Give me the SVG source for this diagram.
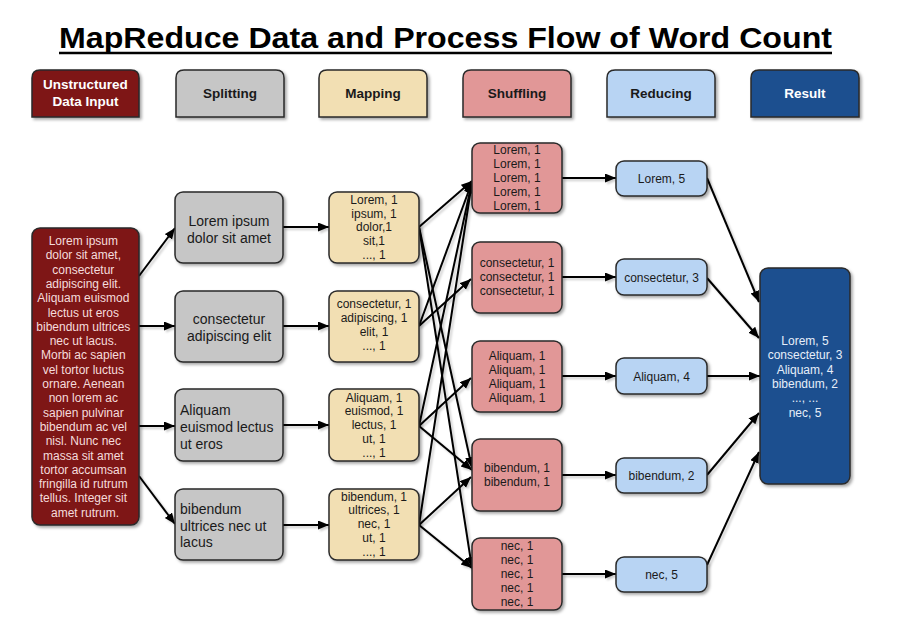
<svg xmlns="http://www.w3.org/2000/svg" width="919" height="624" viewBox="0 0 919 624">
<defs>
<filter id="sh" x="-20%" y="-20%" width="140%" height="140%"><feDropShadow dx="2" dy="2" stdDeviation="1.5" flood-color="#000" flood-opacity="0.35"/></filter>
<filter id="lsh" x="-20%" y="-20%" width="140%" height="140%"><feDropShadow dx="2" dy="2" stdDeviation="1" flood-color="#000" flood-opacity="0.2"/></filter>
<marker id="ah" markerUnits="userSpaceOnUse" markerWidth="12" markerHeight="10" refX="11" refY="4.5" orient="auto"><path d="M0,0 L11,4.5 L0,9 z" fill="#000"/></marker>
<style>
.t{font-family:"Liberation Sans",Arial,sans-serif;}
.hd{font-family:"Liberation Sans",Arial,sans-serif;font-weight:bold;font-size:13.5px;text-anchor:middle;}
.box{stroke:#2a2a2a;stroke-width:1.5;filter:url(#sh);}
.in{fill:#7e1518;}
.sp{fill:#c6c6c6;}
.mp{fill:#f2dfb3;}
.sf{fill:#e19797;}
.rd{fill:#b8d4f3;}
.rs{fill:#1f4f8f;}
.s12{font-family:"Liberation Sans",Arial,sans-serif;font-size:12px;fill:#1a1a1a;text-anchor:middle;}
.s14{font-family:"Liberation Sans",Arial,sans-serif;font-size:14px;fill:#1a1a1a;}
.c{stroke:#000;stroke-width:2;fill:none;marker-end:url(#ah);}
</style>
</defs>
<rect width="919" height="624" fill="#fff"/>
<g id="title">
<text class="t" x="59" y="48" font-size="29" font-weight="bold" fill="#000" textLength="773" lengthAdjust="spacingAndGlyphs">MapReduce Data and Process Flow of Word Count</text>
<line x1="59" y1="53" x2="832" y2="53" stroke="#000" stroke-width="2.5"/>
</g>
<g id="headers">
<g id="h-input"><path class="box in" d="M32,117 V78 Q32,70 40,70 H131 Q139,70 139,78 V117 Z"/><text class="hd" x="85.5" y="89" fill="#fff">Unstructured</text><text class="hd" x="85.5" y="106" fill="#fff">Data Input</text></g>
<g id="h-split"><path class="box sp" d="M176,117 V78 Q176,70 184,70 H276 Q284,70 284,78 V117 Z"/><text class="hd" x="230" y="98" fill="#1a1a1a">Splitting</text></g>
<g id="h-map"><path class="box mp" d="M319,117 V78 Q319,70 327,70 H419 Q427,70 427,78 V117 Z"/><text class="hd" x="373" y="98" fill="#1a1a1a">Mapping</text></g>
<g id="h-shuffle"><path class="box sf" d="M463,117 V78 Q463,70 471,70 H563 Q571,70 571,78 V117 Z"/><text class="hd" x="517" y="98" fill="#1a1a1a">Shuffling</text></g>
<g id="h-reduce"><path class="box rd" d="M607,117 V78 Q607,70 615,70 H707 Q715,70 715,78 V117 Z"/><text class="hd" x="661" y="98" fill="#1a1a1a">Reducing</text></g>
<g id="h-result"><path class="box rs" d="M751,117 V78 Q751,70 759,70 H851 Q859,70 859,78 V117 Z"/><text class="hd" x="805" y="98" fill="#fff">Result</text></g>
</g>
<g id="connectors" filter="url(#lsh)">
<line class="c" x1="139" y1="276" x2="175" y2="228"/>
<line class="c" x1="139" y1="326" x2="175" y2="326"/>
<line class="c" x1="139" y1="426" x2="175" y2="426"/>
<line class="c" x1="139" y1="476" x2="175" y2="524"/>
<line class="c" x1="283" y1="227" x2="329" y2="227"/>
<line class="c" x1="283" y1="326" x2="329" y2="326"/>
<line class="c" x1="283" y1="425" x2="329" y2="425"/>
<line class="c" x1="283" y1="525" x2="329" y2="525"/>
<line class="c" x1="419" y1="227" x2="472" y2="181"/>
<line class="c" x1="419" y1="227" x2="472" y2="468"/>
<line class="c" x1="419" y1="227" x2="472" y2="568"/>
<line class="c" x1="419" y1="326" x2="472" y2="182"/>
<line class="c" x1="419" y1="326" x2="471" y2="279"/>
<line class="c" x1="419" y1="426" x2="472" y2="182"/>
<line class="c" x1="419" y1="426" x2="471" y2="378"/>
<line class="c" x1="419" y1="426" x2="472" y2="470"/>
<line class="c" x1="419" y1="525" x2="472" y2="182"/>
<line class="c" x1="419" y1="525" x2="471" y2="477"/>
<line class="c" x1="419" y1="525" x2="472" y2="568"/>
<line class="c" x1="562" y1="178" x2="616" y2="178"/>
<line class="c" x1="562" y1="277" x2="616" y2="277"/>
<line class="c" x1="562" y1="376" x2="616" y2="376"/>
<line class="c" x1="562" y1="475" x2="616" y2="475"/>
<line class="c" x1="562" y1="574" x2="616" y2="574"/>
<line class="c" x1="707" y1="178" x2="759" y2="302"/>
<line class="c" x1="707" y1="278" x2="759" y2="338"/>
<line class="c" x1="707" y1="376" x2="760" y2="376"/>
<line class="c" x1="707" y1="475" x2="759" y2="413"/>
<line class="c" x1="707" y1="565" x2="759" y2="452"/>
</g>
<g id="input">
<rect class="box in" x="32" y="228" width="107" height="297" rx="8"/>
<text class="t" font-size="12" fill="#f5dcdc" text-anchor="middle">
<tspan x="85" y="245">Lorem ipsum</tspan>
<tspan x="85" dy="14.3">dolor sit amet,</tspan>
<tspan x="85" dy="14.3">consectetur</tspan>
<tspan x="85" dy="14.3">adipiscing elit.</tspan>
<tspan x="85" dy="14.3">Aliquam euismod</tspan>
<tspan x="85" dy="14.3">lectus ut eros</tspan>
<tspan x="85" dy="14.3">bibendum ultrices</tspan>
<tspan x="85" dy="14.3">nec ut lacus.</tspan>
<tspan x="85" dy="14.3">Morbi ac sapien</tspan>
<tspan x="85" dy="14.3">vel tortor luctus</tspan>
<tspan x="85" dy="14.3">ornare. Aenean</tspan>
<tspan x="85" dy="14.3">non lorem ac</tspan>
<tspan x="85" dy="14.3">sapien pulvinar</tspan>
<tspan x="85" dy="14.3">bibendum ac vel</tspan>
<tspan x="85" dy="14.3">nisl. Nunc nec</tspan>
<tspan x="85" dy="14.3">massa sit amet</tspan>
<tspan x="85" dy="14.3">tortor accumsan</tspan>
<tspan x="85" dy="14.3">fringilla id rutrum</tspan>
<tspan x="85" dy="14.3">tellus. Integer sit</tspan>
<tspan x="85" dy="14.3">amet rutrum.</tspan>
</text>
</g>
<g id="split1"><rect class="box sp" x="175" y="192" width="108" height="71" rx="8"/><text class="s14" text-anchor="middle"><tspan x="229" y="226">Lorem ipsum</tspan><tspan x="229" y="243">dolor sit amet</tspan></text></g>
<g id="split2"><rect class="box sp" x="175" y="291" width="108" height="71" rx="8"/><text class="s14" text-anchor="middle"><tspan x="229" y="324">consectetur</tspan><tspan x="229" y="341">adipiscing elit</tspan></text></g>
<g id="split3"><rect class="box sp" x="175" y="389" width="108" height="72" rx="8"/><text class="s14"><tspan x="180" y="415">Aliquam</tspan><tspan x="180" y="432">euismod lectus</tspan><tspan x="180" y="449">ut eros</tspan></text></g>
<g id="split4"><rect class="box sp" x="175" y="489" width="108" height="71" rx="8"/><text class="s14"><tspan x="180" y="514">bibendum</tspan><tspan x="180" y="530.5">ultrices nec ut</tspan><tspan x="180" y="547">lacus</tspan></text></g>
<g id="map1"><rect class="box mp" x="329" y="192" width="90" height="71" rx="8"/><text class="s12"><tspan x="374" y="204">Lorem, 1</tspan><tspan x="374" dy="13.7">ipsum, 1</tspan><tspan x="374" dy="13.7">dolor,1</tspan><tspan x="374" dy="13.7">sit,1</tspan><tspan x="374" dy="13.7">..., 1</tspan></text></g>
<g id="map2"><rect class="box mp" x="329" y="291" width="90" height="71" rx="8"/><text class="s12"><tspan x="374" y="308">consectetur, 1</tspan><tspan x="374" dy="14">adipiscing, 1</tspan><tspan x="374" dy="14">elit, 1</tspan><tspan x="374" dy="14">..., 1</tspan></text></g>
<g id="map3"><rect class="box mp" x="329" y="389" width="90" height="72" rx="8"/><text class="s12"><tspan x="374" y="401.5">Aliquam, 1</tspan><tspan x="374" dy="13.9">euismod, 1</tspan><tspan x="374" dy="13.9">lectus, 1</tspan><tspan x="374" dy="13.9">ut, 1</tspan><tspan x="374" dy="13.9">..., 1</tspan></text></g>
<g id="map4"><rect class="box mp" x="329" y="489" width="90" height="71" rx="8"/><text class="s12"><tspan x="374" y="500.5">bibendum, 1</tspan><tspan x="374" dy="13.9">ultrices, 1</tspan><tspan x="374" dy="13.9">nec, 1</tspan><tspan x="374" dy="13.9">ut, 1</tspan><tspan x="374" dy="13.9">..., 1</tspan></text></g>
<g id="shuffle1"><rect class="box sf" x="472" y="143" width="90" height="70" rx="8"/><text class="s12"><tspan x="517" y="153.5">Lorem, 1</tspan><tspan x="517" dy="14">Lorem, 1</tspan><tspan x="517" dy="14">Lorem, 1</tspan><tspan x="517" dy="14">Lorem, 1</tspan><tspan x="517" dy="14">Lorem, 1</tspan></text></g>
<g id="shuffle2"><rect class="box sf" x="472" y="242" width="90" height="71" rx="8"/><text class="s12"><tspan x="517" y="267">consectetur, 1</tspan><tspan x="517" dy="14">consectetur, 1</tspan><tspan x="517" dy="14">consectetur, 1</tspan></text></g>
<g id="shuffle3"><rect class="box sf" x="472" y="341" width="90" height="71" rx="8"/><text class="s12"><tspan x="517" y="360">Aliquam, 1</tspan><tspan x="517" dy="14">Aliquam, 1</tspan><tspan x="517" dy="14">Aliquam, 1</tspan><tspan x="517" dy="14">Aliquam, 1</tspan></text></g>
<g id="shuffle4"><rect class="box sf" x="472" y="439" width="90" height="72" rx="8"/><text class="s12"><tspan x="517" y="472">bibendum, 1</tspan><tspan x="517" dy="14">bibendum, 1</tspan></text></g>
<g id="shuffle5"><rect class="box sf" x="472" y="538" width="90" height="72" rx="8"/><text class="s12"><tspan x="517" y="550">nec, 1</tspan><tspan x="517" dy="14">nec, 1</tspan><tspan x="517" dy="14">nec, 1</tspan><tspan x="517" dy="14">nec, 1</tspan><tspan x="517" dy="14">nec, 1</tspan></text></g>
<g id="reduce1"><rect class="box rd" x="616" y="161" width="91" height="35" rx="8"/><text class="s12" x="661.5" y="182.5">Lorem, 5</text></g>
<g id="reduce2"><rect class="box rd" x="616" y="259" width="91" height="36" rx="8"/><text class="s12" x="661.5" y="281.5">consectetur, 3</text></g>
<g id="reduce3"><rect class="box rd" x="616" y="358" width="91" height="36" rx="8"/><text class="s12" x="661.5" y="380.5">Aliquam, 4</text></g>
<g id="reduce4"><rect class="box rd" x="616" y="458" width="91" height="35" rx="8"/><text class="s12" x="661.5" y="479.5">bibendum, 2</text></g>
<g id="reduce5"><rect class="box rd" x="616" y="557" width="91" height="35" rx="8"/><text class="s12" x="661.5" y="578.5">nec, 5</text></g>
<g id="result"><rect class="box rs" x="760" y="268" width="90" height="216" rx="8"/><text class="s12" style="fill:#e6eef9"><tspan x="805" y="345">Lorem, 5</tspan><tspan x="805" dy="14.3">consectetur, 3</tspan><tspan x="805" dy="14.3">Aliquam, 4</tspan><tspan x="805" dy="14.3">bibendum, 2</tspan><tspan x="805" dy="14.3">..., ...</tspan><tspan x="805" dy="14.3">nec, 5</tspan></text></g>
</svg>
